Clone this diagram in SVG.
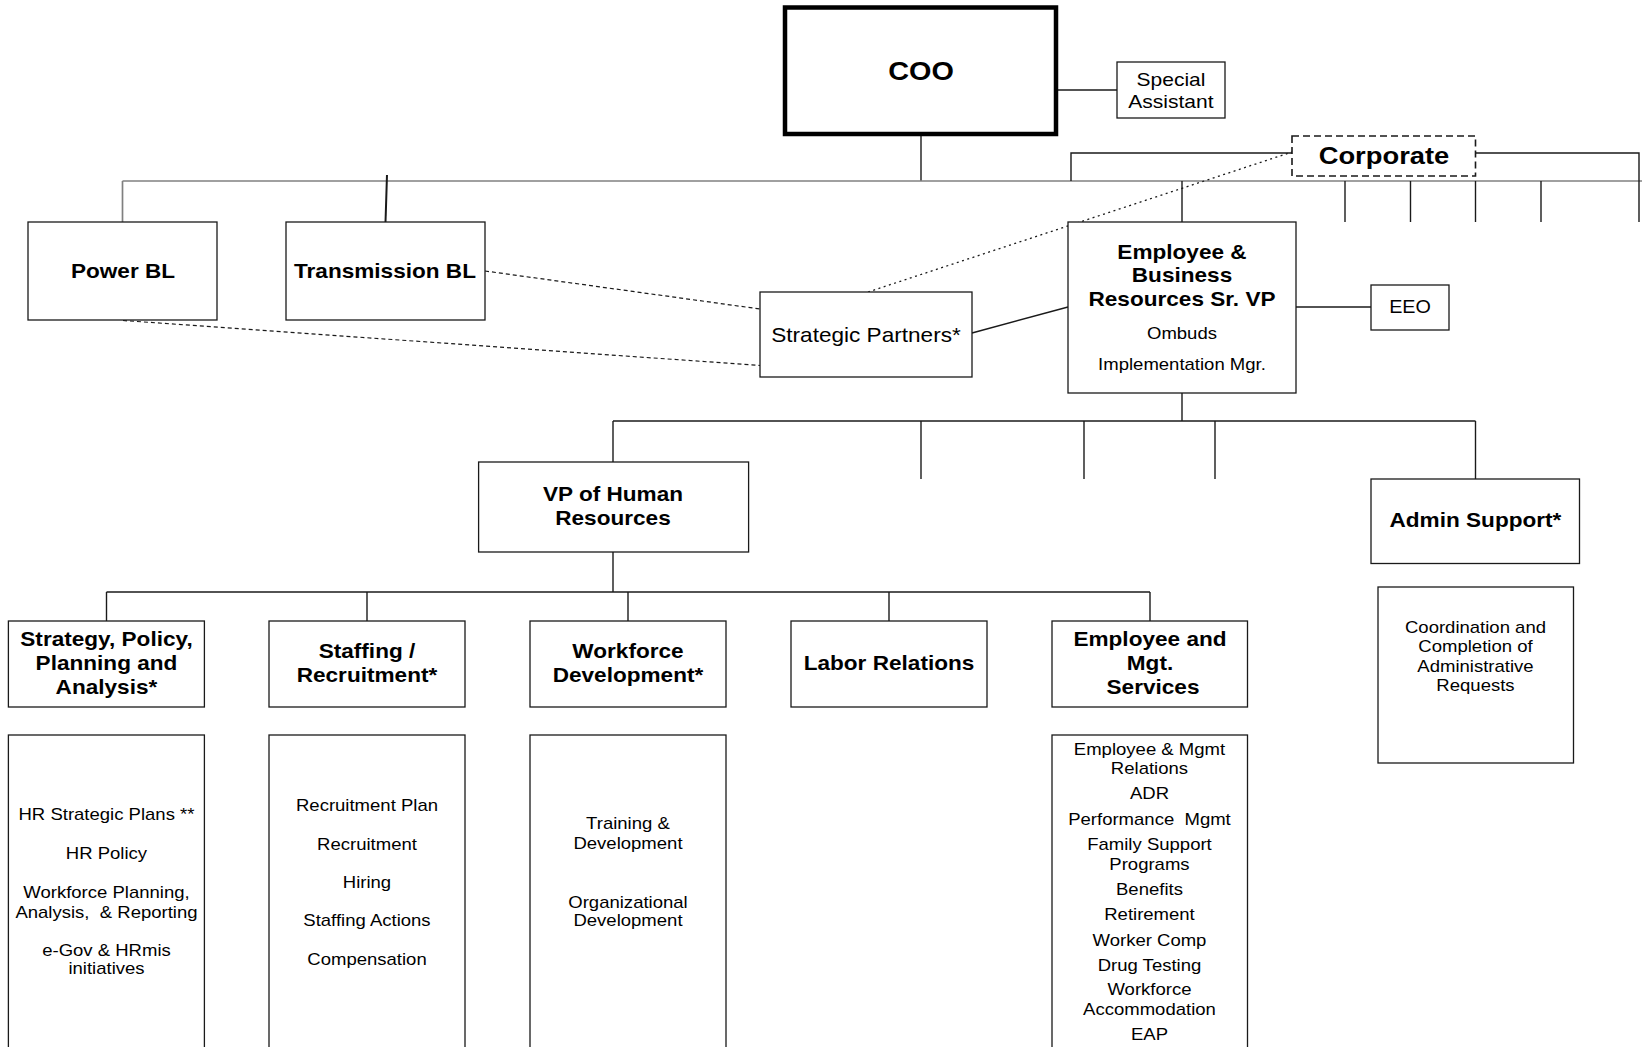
<svg xmlns="http://www.w3.org/2000/svg" width="1642" height="1047" viewBox="0 0 1642 1047">
  <style>
    .box { fill: #fff; stroke: #1a1a1a; stroke-width: 1.3; }
    .thick { fill: #fff; stroke: #000; stroke-width: 4.5; }
    .dashbox { fill: #fff; stroke: #1a1a1a; stroke-width: 1.6; stroke-dasharray: 7 4; }
    .ln { fill: none; stroke: #1a1a1a; stroke-width: 1.4; }
    .grey { fill: none; stroke: #808080; stroke-width: 1.7; }
    .dash { fill: none; stroke: #1a1a1a; stroke-width: 1.2; stroke-dasharray: 4 3; }
    .dot { fill: none; stroke: #1a1a1a; stroke-width: 1.3; stroke-dasharray: 2 3.5; }
    text { font-family: "Liberation Sans", Arial, Helvetica, sans-serif; text-anchor: middle; fill: #000;
           transform-box: fill-box; transform-origin: 50% 50%; transform: scaleX(1.13); }
    .h { font-weight: bold; font-size: 20px; }
    .t { font-size: 16.4px; }
    .pre { white-space: pre; }
  </style>

  <!-- reporting lines -->
  <g id="connectors">
    <line class="ln" x1="1058" y1="90" x2="1117" y2="90"/>
    <line class="ln" x1="921" y1="136" x2="921" y2="181"/>
    <line class="grey" x1="122.5" y1="181" x2="1642" y2="181"/>
    <line class="grey" x1="122.5" y1="181" x2="122.5" y2="222"/>
    <line class="ln" x1="387" y1="175" x2="385.5" y2="222" style="stroke-width:2"/>
    <polyline class="ln" points="1071,181 1071,153 1292,153"/>
    <polyline class="ln" points="1475.5,153 1639,153 1639,222"/>
    <line class="ln" x1="1345" y1="181" x2="1345" y2="222"/>
    <line class="ln" x1="1410.5" y1="181" x2="1410.5" y2="222"/>
    <line class="ln" x1="1475.5" y1="181" x2="1475.5" y2="222"/>
    <line class="ln" x1="1541" y1="181" x2="1541" y2="222"/>
    <line class="ln" x1="1182" y1="181" x2="1182" y2="222"/>
    <line class="dot" x1="868" y1="292" x2="1292" y2="152"/>
    <line class="dash" x1="485" y1="271" x2="760" y2="309"/>
    <line class="dash" x1="123" y1="320.5" x2="760" y2="365.5"/>
    <line class="ln" x1="972" y1="333" x2="1068" y2="307"/>
    <line class="ln" x1="1296" y1="307" x2="1371" y2="307"/>
    <line class="ln" x1="1182" y1="393" x2="1182" y2="421"/>
    <line class="ln" x1="613" y1="421" x2="1475.5" y2="421"/>
    <line class="ln" x1="921" y1="421" x2="921" y2="479"/>
    <line class="ln" x1="1084" y1="421" x2="1084" y2="479"/>
    <line class="ln" x1="1215" y1="421" x2="1215" y2="479"/>
    <line class="ln" x1="1475.5" y1="421" x2="1475.5" y2="479"/>
    <line class="ln" x1="613" y1="421" x2="613" y2="462"/>
    <line class="ln" x1="613" y1="552" x2="613" y2="592"/>
    <line class="ln" x1="106.5" y1="592" x2="1150" y2="592"/>
    <line class="ln" x1="106.5" y1="592" x2="106.5" y2="621"/>
    <line class="ln" x1="367" y1="592" x2="367" y2="621"/>
    <line class="ln" x1="628" y1="592" x2="628" y2="621"/>
    <line class="ln" x1="889" y1="592" x2="889" y2="621"/>
    <line class="ln" x1="1150" y1="592" x2="1150" y2="621"/>
  </g>

  <g id="coo">
    <rect class="thick" x="785" y="7.5" width="271" height="126.5"/>
    <text class="h" x="921" y="80" style="font-size:25.5px">COO</text>
  </g>

  <g id="special-assistant">
    <rect class="box" x="1117" y="62" width="108" height="56"/>
    <text class="t" x="1171" y="85.7" style="font-size:18.6px">Special</text>
    <text class="t" x="1171" y="108.4" style="font-size:18.6px">Assistant</text>
  </g>

  <g id="corporate">
    <rect class="dashbox" x="1292" y="136" width="183.5" height="40"/>
    <text class="h" x="1384" y="164.5" style="font-size:24.2px">Corporate</text>
  </g>

  <g id="power-bl">
    <rect class="box" x="28" y="222" width="189" height="98"/>
    <text class="h" x="123" y="278">Power BL</text>
  </g>

  <g id="transmission-bl">
    <rect class="box" x="286" y="222" width="199" height="98"/>
    <text class="h" x="385" y="278">Transmission BL</text>
  </g>

  <g id="strategic-partners">
    <rect class="box" x="760" y="292" width="212" height="85"/>
    <text class="t" x="866" y="342" style="font-size:20px">Strategic Partners*</text>
  </g>

  <g id="eb-sr-vp">
    <rect class="box" x="1068" y="222" width="228" height="171"/>
    <text class="h" x="1182" y="259">Employee &amp;</text>
    <text class="h" x="1182" y="282">Business</text>
    <text class="h" x="1182" y="306">Resources Sr. VP</text>
    <text class="t" x="1182" y="339">Ombuds</text>
    <text class="t" x="1182" y="370">Implementation Mgr.</text>
  </g>

  <g id="eeo">
    <rect class="box" x="1371" y="285" width="78" height="45"/>
    <text class="t" x="1410" y="313" style="font-size:17.5px">EEO</text>
  </g>

  <g id="vp-hr">
    <rect class="box" x="478.6" y="462" width="270" height="90"/>
    <text class="h" x="613" y="501">VP of Human</text>
    <text class="h" x="613" y="525">Resources</text>
  </g>

  <g id="admin-support">
    <rect class="box" x="1371" y="479" width="208.5" height="84.5"/>
    <text class="h" x="1475.5" y="527">Admin Support*</text>
  </g>

  <g id="admin-duties">
    <rect class="box" x="1378" y="587" width="195.5" height="176"/>
    <text class="t" x="1475.5" y="632.6">Coordination and</text>
    <text class="t" x="1475.5" y="652">Completion of</text>
    <text class="t" x="1475.5" y="671.6">Administrative</text>
    <text class="t" x="1475.5" y="691">Requests</text>
  </g>

  <g id="strategy-policy">
    <rect class="box" x="8.4" y="621" width="196" height="86"/>
    <text class="h" x="106.5" y="646">Strategy, Policy,</text>
    <text class="h" x="106.5" y="670">Planning and</text>
    <text class="h" x="106.5" y="694">Analysis*</text>
  </g>

  <g id="staffing">
    <rect class="box" x="269" y="621" width="196" height="86"/>
    <text class="h" x="367" y="658">Staffing /</text>
    <text class="h" x="367" y="682">Recruitment*</text>
  </g>

  <g id="workforce-dev">
    <rect class="box" x="530" y="621" width="196" height="86"/>
    <text class="h" x="628" y="658">Workforce</text>
    <text class="h" x="628" y="682">Development*</text>
  </g>

  <g id="labor-relations">
    <rect class="box" x="791" y="621" width="196" height="86"/>
    <text class="h" x="889" y="670">Labor Relations</text>
  </g>

  <g id="emp-mgt-services">
    <rect class="box" x="1052" y="621" width="195.5" height="86"/>
    <text class="h" x="1150" y="646">Employee and</text>
    <text class="h" x="1150" y="670">Mgt.</text>
    <text class="h" x="1153" y="694">Services</text>
  </g>

  <g id="strategy-duties">
    <rect class="box" x="8.4" y="735" width="196" height="330"/>
    <text class="t" x="106.5" y="820.2">HR Strategic Plans **</text>
    <text class="t" x="106.5" y="858.6">HR Policy</text>
    <text class="t" x="106.5" y="897.9">Workforce Planning,</text>
    <text class="t pre" x="106.5" y="917.6">Analysis,  &amp; Reporting</text>
    <text class="t" x="106.5" y="955.6">e-Gov &amp; HRmis</text>
    <text class="t" x="106.5" y="974.2">initiatives</text>
  </g>

  <g id="staffing-duties">
    <rect class="box" x="269" y="735" width="196" height="330"/>
    <text class="t" x="367" y="810.6">Recruitment Plan</text>
    <text class="t" x="367" y="849.6">Recruitment</text>
    <text class="t" x="367" y="887.9">Hiring</text>
    <text class="t" x="367" y="926.2">Staffing Actions</text>
    <text class="t" x="367" y="965.2">Compensation</text>
  </g>

  <g id="workforce-duties">
    <rect class="box" x="530" y="735" width="196" height="330"/>
    <text class="t" x="628" y="829.2">Training &amp;</text>
    <text class="t" x="628" y="849.2">Development</text>
    <text class="t" x="628" y="907.6">Organizational</text>
    <text class="t" x="628" y="925.9">Development</text>
  </g>

  <g id="emp-mgt-duties">
    <rect class="box" x="1052" y="735" width="195.5" height="330"/>
    <text class="t" x="1149.5" y="754.9">Employee &amp; Mgmt</text>
    <text class="t" x="1149.5" y="773.6">Relations</text>
    <text class="t" x="1149.5" y="799.2">ADR</text>
    <text class="t pre" x="1149.5" y="824.6">Performance  Mgmt</text>
    <text class="t" x="1149.5" y="849.9">Family Support</text>
    <text class="t" x="1149.5" y="869.6">Programs</text>
    <text class="t" x="1149.5" y="894.6">Benefits</text>
    <text class="t" x="1149.5" y="919.6">Retirement</text>
    <text class="t" x="1149.5" y="945.6">Worker Comp</text>
    <text class="t" x="1149.5" y="970.9">Drug Testing</text>
    <text class="t" x="1149.5" y="995.2">Workforce</text>
    <text class="t" x="1149.5" y="1015.2">Accommodation</text>
    <text class="t" x="1149.5" y="1040.2">EAP</text>
  </g>
</svg>
